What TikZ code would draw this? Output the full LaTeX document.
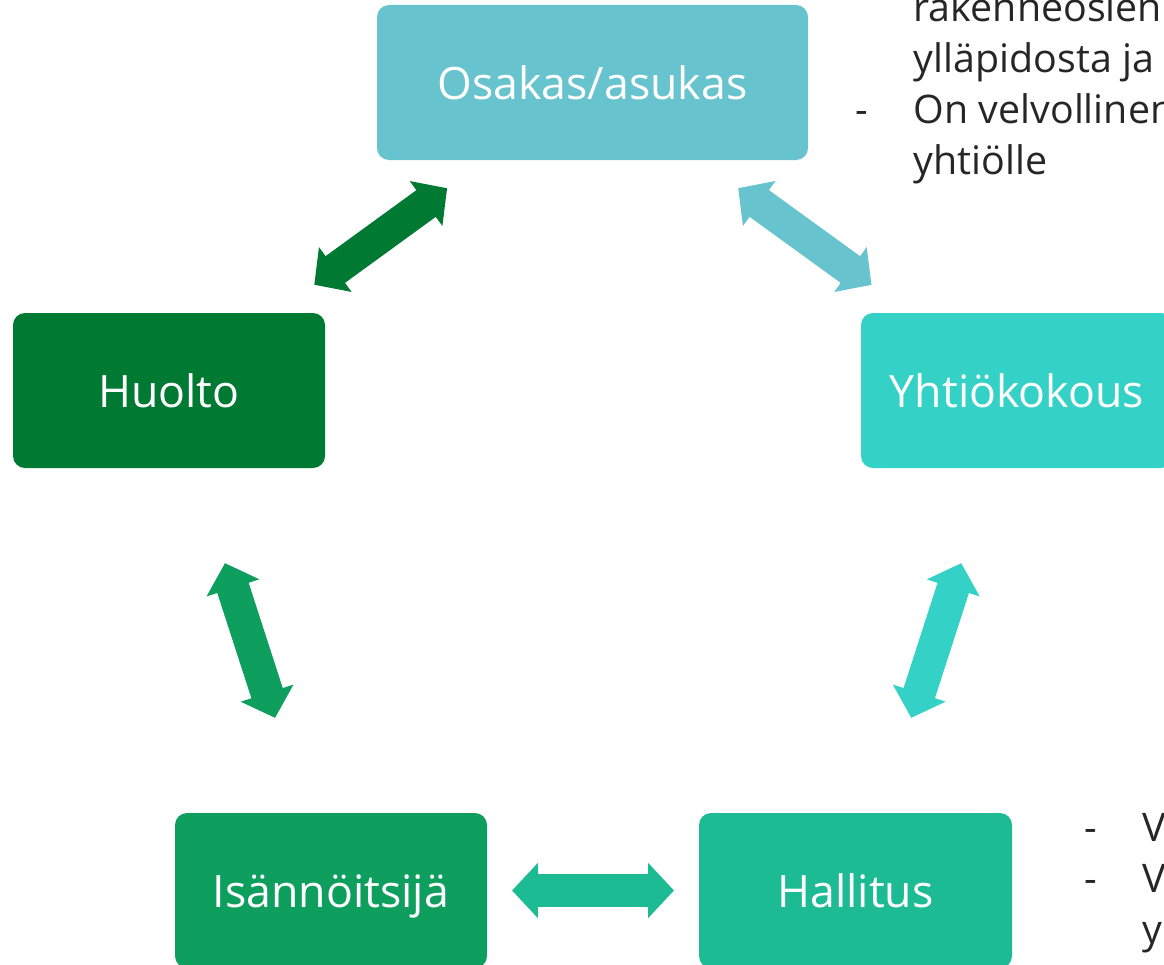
\documentclass[tikz,border=0pt]{standalone}
\usepackage{fontspec}
\setmainfont{Open Sans}
\usetikzlibrary{arrows.meta,positioning}

\definecolor{osakascol}{HTML}{67C3CD}
\definecolor{huoltocol}{HTML}{007A33}
\definecolor{yhtiocol}{HTML}{33D1C6}
\definecolor{isannoitsijacol}{HTML}{0E9E5E}
\definecolor{hallituscol}{HTML}{1DBB93}

\tikzset{
  box/.style={rectangle, rounded corners=0.12cm, minimum height=1.55cm, minimum width=3.12cm,
    inner sep=0pt, outer sep=0pt, text height=0.34cm, text depth=0cm, text=white,
    font=\fontsize{12.7}{15}\selectfont},
  bigarrow/.style={line width=0.33cm,
    {Triangle[width=0.54cm,length=0.26cm]}-{Triangle[width=0.54cm,length=0.26cm]}},
  note/.style={align=left, inner sep=0pt, anchor=base west, text=black!85,
    font=\fontsize{11.2}{14.5}\selectfont}
}

\begin{document}
\begin{tikzpicture}
\useasboundingbox (0,0) rectangle (11.64,-9.64);
\clip (0,0) rectangle (11.64,-9.64);

\newcommand{\myarrowboth}[4]{% couleur, depart, arrivee, recul
\draw[bigarrow,#1,shorten <=#4,shorten >=#4] (#2) -- (#3);
}

%osakas
\node[box,fill=osakascol,minimum width=4.31cm] (osakas) at (5.925,-0.825) {Osakas/asukas};
%huolto
\node[box,fill=huoltocol] (huolto) at (1.69,-3.905) {Huolto};
%yhtiokokous
\node[box,fill=yhtiocol] (yhtiokokous) at (10.17,-3.905) {Yhtiökokous};
%isannoitsija
\node[box,fill=isannoitsijacol] (isannoitsija) at (3.31,-8.905) {Isännöitsijä};
%hallitus
\node[box,fill=hallituscol,minimum width=3.13cm] (hallitus) at (8.555,-8.905) {Hallitus};

%arrows
\myarrowboth{huoltocol}{osakas}{huolto}{0.48cm}
\myarrowboth{osakascol}{osakas}{yhtiokokous}{0.48cm}
\myarrowboth{isannoitsijacol}{huolto}{isannoitsija}{1cm}
\myarrowboth{yhtiocol}{yhtiokokous}{hallitus}{1cm}
\myarrowboth{hallituscol}{isannoitsija}{hallitus}{0.25cm}

%notes
\node[note] (osakasnote) at (8.55,-1.747) {\hspace*{0.58cm}rakenneosien\\
\hspace*{0.58cm}ylläpidosta ja\\
\makebox[0.58cm][l]{-}On velvollinen\\
\hspace*{0.58cm}yhtiölle};
\node[note] (hallitusnote) at (10.84,-9.43) {\makebox[0.58cm][l]{-}V\\
\makebox[0.58cm][l]{-}V\\
\hspace*{0.58cm}y};

\end{tikzpicture}
\end{document}
